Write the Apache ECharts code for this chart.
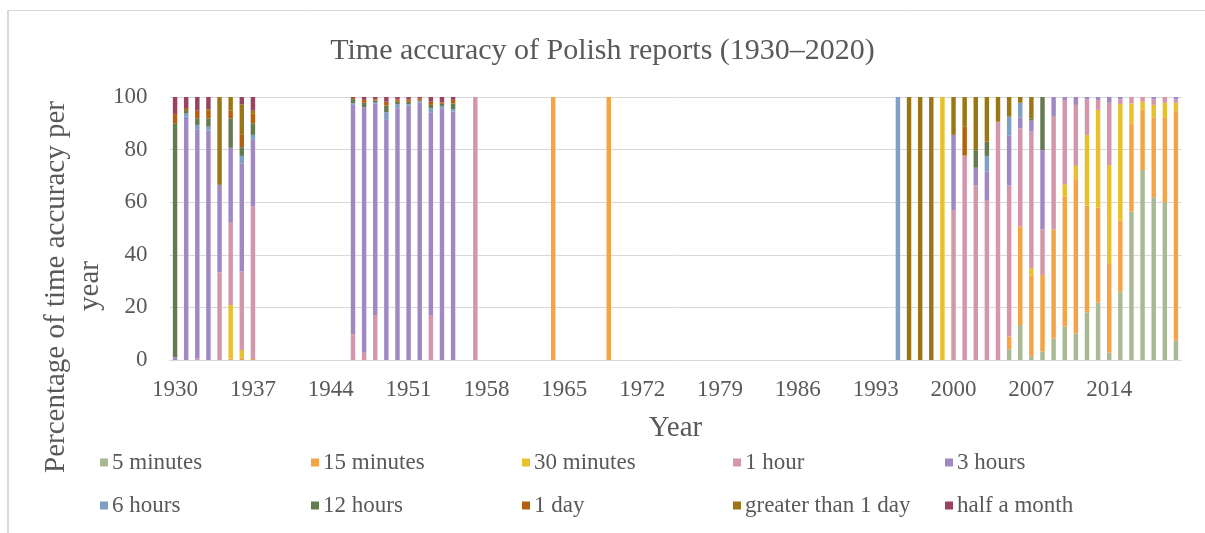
<!DOCTYPE html>
<html>
<head>
<meta charset="utf-8">
<script src="https://cdn.jsdelivr.net/npm/echarts@6/dist/echarts.min.js"></script>
<style>
html,body{margin:0;padding:0;background:#fff;}
#chart{width:1205px;height:533px;}
</style>
</head>
<body>
<div id="chart"></div>
<script>
// Categories: every year 1930–2020
const categories = [];
for (let y = 1930; y <= 2020; y++) categories.push(String(y));

// Years that have data (all other years are empty)
const dataYears = [1930,1931,1932,1933,1934,1935,1936,1937,
  1946,1947,1948,1949,1950,1951,1952,1953,1954,1955,
  1957,1964,1969,
  1995,1996,1997,1998,1999,2000,2001,2002,2003,2004,2005,2006,2007,2008,2009,2010,2011,2012,2013,2014,2015,2016,2017,2018,2019,2020];

// Series values (percent), aligned with dataYears
const min5 = [0,0,0,0,0,0,0,0, 0,0,0,0,0,0,0,0,0,0, 0,0,0,
  0,0,0,0,0,0,0,0,0,0,4.1,13.3,1.6,3.2,8.2,12.7,10.1,18.1,21.8,2.8,26,56.4,72.2,61.9,60,7.4];
const min15 = [0,0,0,0,0,0.6,0.9,0.4, 0,0,0,0,0,0,0,0,0,0, 0,100,100,
  0,0,0,0,0,0,0,0,0,0,4.8,37.4,30.5,29.1,41.5,49.4,58.6,40.6,36.2,34,27,33.6,23.1,30.4,32.3,87.4];
const min30 = [0,0,0,0,0,20.3,2.9,0, 0,0,0,0,0,0,0,0,0,0, 0,0,0,
  0,0,0,0,100,0,0,0,0,0,0,0,2.8,0,0,4.7,5.1,26.9,37.1,37.3,44.3,7.6,2.9,4.7,5.5,3];
const hour1 = [0,0,0.6,0,33.3,31.3,29.8,57.9, 9.8,2.8,17.1,0,0,0,0,17.1,0,0, 100,0,0,
  0,0,0,0,0,57,77.7,66.3,60.8,90.6,57.4,37.4,51.9,17.4,43.1,31.8,23.2,13.5,3.8,23.7,1.8,2.4,1.8,2.1,2.2,1.3];
const hour3 = [1,92.5,87.1,87.2,33.3,28.5,41.2,25.4, 87.2,93.3,80.5,91.5,95.7,96.7,97.8,76.9,95.7,94.4, 0,0,0,
  0,0,0,0,0,28.6,0,6.8,10.8,0,19,4,4.2,30.1,7.2,1.4,3,0.9,1.1,2.2,0.9,0,0,0.9,0,0.9];
const hour6 = [0,1.2,1.7,1.5,0,0,2.8,1.9, 0.6,0,0.5,2.7,1.6,0.6,0.8,1.7,0.9,0.9, 0,0,0,
  100,0,0,0,0,0,0,0,6,0,7.2,5.7,0,0,0,0,0,0,0,0,0,0,0,0,0,0];
const hour12 = [89,1.3,2.5,3.2,0,11.2,3.3,4.4, 1.6,1.7,0.5,2.5,0.9,0.9,0,1.3,0.8,2.3, 0,0,0,
  0,0,0,0,0,0,0,6.7,5.4,0,0,0,0.9,20.2,0,0,0,0,0,0,0,0,0,0,0,0];
const day1 = [3.5,0.8,2.9,3.1,0,2.9,4.7,3.8, 0.4,1.1,0.5,1.5,0.9,0.9,0.9,1.2,0.5,1.3, 0,0,0,
  0,0,0,0,0,0,11,0,0,0,0,0,0,0,0,0,0,0,0,0,0,0,0,0,0,0];
const gt1day = [0,0,0,0.4,33.4,5.2,11.6,1.0, 0,0,0,0,0,0,0,0,0,0, 0,0,0,
  0,100,100,100,0,14.4,11.3,20.2,17,9.4,7.5,2.2,8.1,0,0,0,0,0,0,0,0,0,0,0,0,0];
const halfMonth = [6.5,4.2,5.2,4.8,0,0,2.8,5.2, 0.4,1.1,0.9,1.8,0.9,0.9,0.5,1.8,2.1,1.1, 0,0,0,
  0,0,0,0,0,0,0,0,0,0,0,0,0,0,0,0,0,0,0,0,0,0,0,0,0,0];

const seriesNames = ['5 minutes','15 minutes','30 minutes','1 hour','3 hours','6 hours','12 hours','1 day','greater than 1 day','half a month'];
const seriesValues = [min5, min15, min30, hour1, hour3, hour6, hour12, day1, gt1day, halfMonth];
const colors = ['#a8b993','#f4a446','#e8c02c','#d595aa','#9f88c4','#7f9fc6','#647a4f','#b5600f','#9a7714','#9b4261'];

function expand(vals) {
  const full = categories.map(() => null);
  dataYears.forEach((yr, i) => {
    const v = vals[i];
    full[yr - 1930] = v > 0 ? v : null;
  });
  return full;
}

const FONT = '"Liberation Serif", "DejaVu Serif", serif';
const TXT = '#595959';

const series = seriesNames.map((name, i) => ({
  name: name,
  type: 'bar',
  stack: 'total',
  barWidth: '40%',
  data: expand(seriesValues[i]),
  itemStyle: { color: colors[i] },
  emphasis: { disabled: true }
}));

// Legend: one per item, 5 columns x 2 rows
const legendCols = [100, 311, 522, 733, 945];
const legendRows = [451, 494];
const legends = seriesNames.map((name, i) => ({
  data: [name],
  left: legendCols[i % 5],
  top: legendRows[Math.floor(i / 5)],
  itemWidth: 8,
  itemHeight: 8,
  itemGap: 0,
  padding: 0,
  icon: 'rect',
  selectedMode: false,
  textStyle: { fontFamily: FONT, fontSize: 23, color: TXT, padding: [0, 0, 0, -1] }
}));

const chart = echarts.init(document.getElementById('chart'), null, { renderer: 'canvas' });
chart.setOption({
  animation: false,
  backgroundColor: '#fff',
  color: colors,
  title: {
    text: 'Time accuracy of Polish reports (1930–2020)',
    left: 'center',
    top: 31,
    textStyle: { fontFamily: FONT, fontSize: 30, fontWeight: 'normal', color: TXT }
  },
  legend: legends,
  graphic: [
    { type: 'line', shape: { x1: 7, y1: 10.5, x2: 1205, y2: 10.5 }, style: { stroke: '#d9d9d9', lineWidth: 1 } },
    { type: 'line', shape: { x1: 8, y1: 10, x2: 8, y2: 533 }, style: { stroke: '#d9d9d9', lineWidth: 2 } },
    { type: 'text', x: 56, y: 287, rotation: Math.PI / 2,
      style: { text: 'Percentage of time accuracy per', font: '29px ' + FONT, fill: TXT, align: 'center', verticalAlign: 'middle' } },
    { type: 'text', x: 90, y: 286, rotation: Math.PI / 2,
      style: { text: 'year', font: '29px ' + FONT, fill: TXT, align: 'center', verticalAlign: 'middle' } }
  ],
  grid: { left: 169.5, right: 23.5, top: 97, bottom: 173, containLabel: false },
  xAxis: {
    type: 'category',
    data: categories,
    name: 'Year',
    nameLocation: 'middle',
    nameGap: 54,
    nameTextStyle: { fontFamily: FONT, fontSize: 29, color: TXT },
    axisLine: { lineStyle: { color: '#d9d9d9', width: 1 } },
    axisTick: { show: false },
    axisLabel: { interval: 6, fontFamily: FONT, fontSize: 23, color: TXT, margin: 18 },
    splitLine: { show: false }
  },
  yAxis: {
    type: 'value',
    min: 0,
    max: 100,
    interval: 20,
    axisLine: { show: false },
    axisTick: { show: false },
    axisLabel: { fontFamily: FONT, fontSize: 23, color: TXT, margin: 22 },
    splitLine: { lineStyle: { color: '#d9d9d9', width: 1 } }
  },
  series: series
});
</script>
</body>
</html>
